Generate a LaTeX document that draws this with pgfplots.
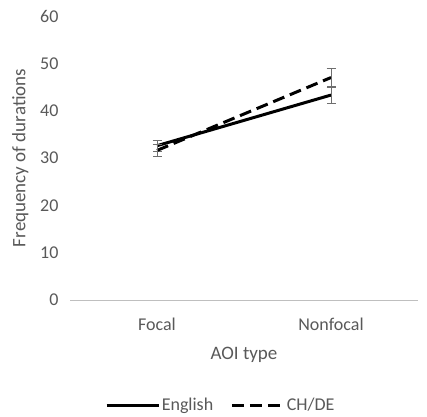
\documentclass[border=0pt]{standalone}
\usepackage{pgfplots}
\pgfplotsset{compat=1.18}
\usepackage{fontspec}
\setmainfont{Carlito}
\definecolor{txt}{HTML}{595959}
\definecolor{axl}{HTML}{BFBFBF}
\definecolor{errc}{HTML}{6E6E6E}
\begin{document}
\begin{tikzpicture}
\begin{axis}[name=ax,
  scale only axis, width=348pt, height=284pt,
  xmin=-0.5, xmax=1.5, ymin=0, ymax=60,
  xtick={0,1}, xticklabels={Focal,Nonfocal},
  ytick={0,10,...,60},
  axis y line*=left, axis x line*=bottom,
  y axis line style={draw=none},
  x axis line style={axl,line width=0.8pt,-},
  major tick length=0pt,
  tick style={draw=none},
  ticklabel style={font=\fontsize{18}{20}\selectfont, text=txt},
  /pgf/number format/assume math mode=true,
  xticklabel style={yshift=-14pt},
  yticklabel style={xshift=-8pt},
  xlabel={AOI type}, ylabel={Frequency of durations},
  label style={font=\fontsize{19}{22}\selectfont, text=txt},
  xlabel style={yshift=-10pt},
  ylabel style={yshift=5pt},
  clip=false,
  legend style={at={(0.432,-0.37)}, anchor=center, draw=none, legend columns=2,
    font=\fontsize{18}{20}\selectfont, text=txt,
    nodes={inner xsep=1pt},
    /tikz/every odd column/.append style={column sep=0pt},
    /tikz/every even column/.append style={column sep=16pt}},
  legend image code/.code={\draw[#1] (0cm,0cm) -- (1.85cm,0cm);},
]
\addplot[black, line width=3pt,
  error bars/.cd, y dir=both, y explicit,
  error bar style={errc, line width=0.9pt, solid},
  error mark options={rotate=90, mark size=4.5pt, errc, line width=0.9pt, solid}]
  coordinates {(0,32.6) +- (0,1.2) (1,43.3) +- (0,1.7)};
\addlegendentry{English}
\addplot[black, line width=3pt, dash pattern=on 12pt off 6pt,
  error bars/.cd, y dir=both, y explicit,
  error bar style={errc, line width=0.9pt, solid},
  error mark options={rotate=90, mark size=4.5pt, errc, line width=0.9pt, solid}]
  coordinates {(0,31.6) +- (0,1.3) (1,47.0) +- (0,1.9)};
\addlegendentry{CH/DE}
\end{axis}
\pgfresetboundingbox
\path (ax.south west) ++(-70pt,-116pt) rectangle ++(427pt,416pt);
\end{tikzpicture}
\end{document}
